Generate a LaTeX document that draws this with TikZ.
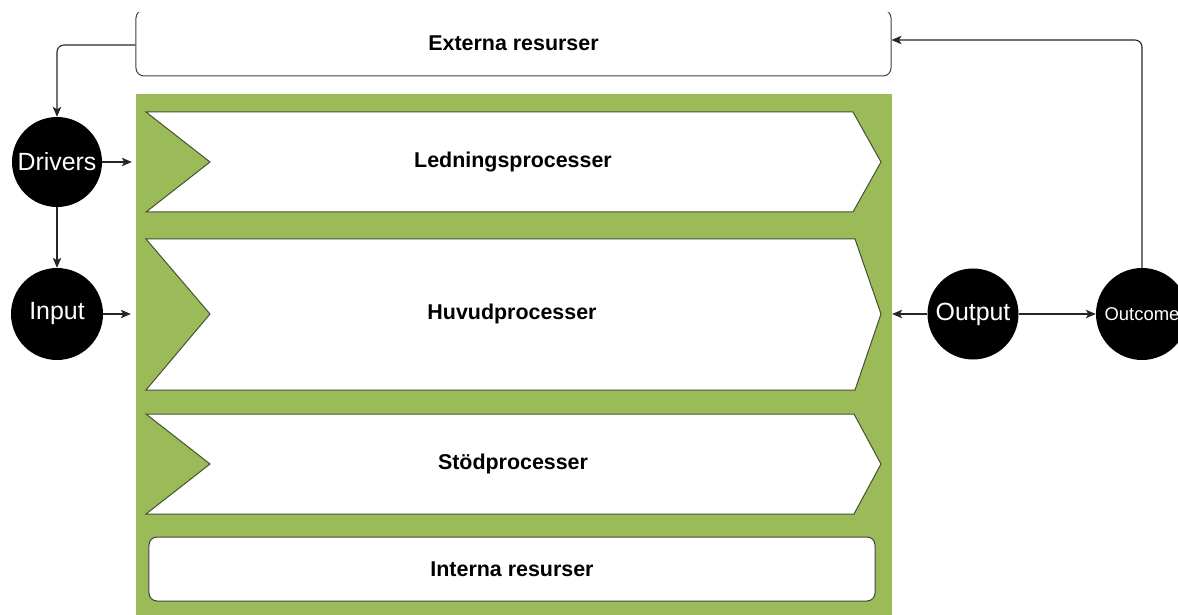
\documentclass[tikz,border=0pt]{standalone}
\usepackage{fontspec}
\setmainfont{Liberation Sans}
\usetikzlibrary{arrows.meta}
\definecolor{leaf}{HTML}{9BBB59}
\definecolor{edge}{HTML}{45502F}
\begin{document}
\begin{tikzpicture}[x=1bp,y=-1bp,
  ball/.style={circle,fill=black,text=white,inner sep=0pt,minimum size=#1,font=\fontsize{25}{29}\selectfont},
  panel/.style={draw=black!75,line width=1bp,rounded corners=8bp,fill=white,inner sep=0pt,font=\bfseries\fontsize{21.5}{25}\selectfont},
  stage/.style={draw=edge,line width=1bp,fill=white},
  stagetext/.style={font=\bfseries\fontsize{21.5}{25}\selectfont,inner sep=0pt},
  link/.style={draw=black!85,line width=1.1bp,-{Stealth[length=10bp,width=8.5bp,inset=2.5bp]},rounded corners=7bp}]
\useasboundingbox (0,0) rectangle (1178,615);
\begin{scope}
\clip (0,13) rectangle (1178,615);

% green frame holding the process stages
\node[fill=leaf,inner sep=0pt,minimum width=756bp,minimum height=526bp] (frame) at (514,357) {};

% external resources
\node[panel,minimum width=755bp,minimum height=66bp] (ext) at (513.5,43) {Externa resurser};

% process stages
\draw[stage] (146,112) -- (853,112) -- (881,162) -- (853,212) -- (146,212) -- (210,162) -- cycle;
\node[stagetext] (led) at (513,162) {Ledningsprocesser};
\draw[stage] (146,239) -- (855,239) -- (881,314) -- (855,390) -- (146,390) -- (210,314) -- cycle;
\node[stagetext] (huv) at (512,314) {Huvudprocesser};
\draw[stage] (146,414) -- (854,414) -- (881,464) -- (854,514) -- (146,514) -- (210,464) -- cycle;
\node[stagetext] (sto) at (513,464) {Stödprocesser};

% internal resources
\node[panel,minimum width=726bp,minimum height=64bp] (int) at (512,569) {Interna resurser};

% circles
\node[ball=90bp] (drv) at (57,162) {Drivers};
\node[ball=92bp] (inp) at (57,314) {Input};
\node[ball=91bp] (out) at (973,314) {Output};
\node[ball=92bp,font=\fontsize{18.5}{22}\selectfont] (outc) at (1142,314) {Outcome};

% connectors
\draw[link] (ext.west |- 0,45) -| (drv.north);
\draw[link] (drv.south) -- (inp.north);
\draw[link,shorten >=4bp] (drv.east) -- (drv -| frame.west);
\draw[link,shorten >=5bp] (inp.east) -- (inp -| frame.west);
\draw[link] (out.west) -- (out -| frame.east);
\draw[link] (out.east) -- (outc.west);
\draw[link] (outc.north) |- (ext.east |- 0,40);
\end{scope}
\end{tikzpicture}
\end{document}
